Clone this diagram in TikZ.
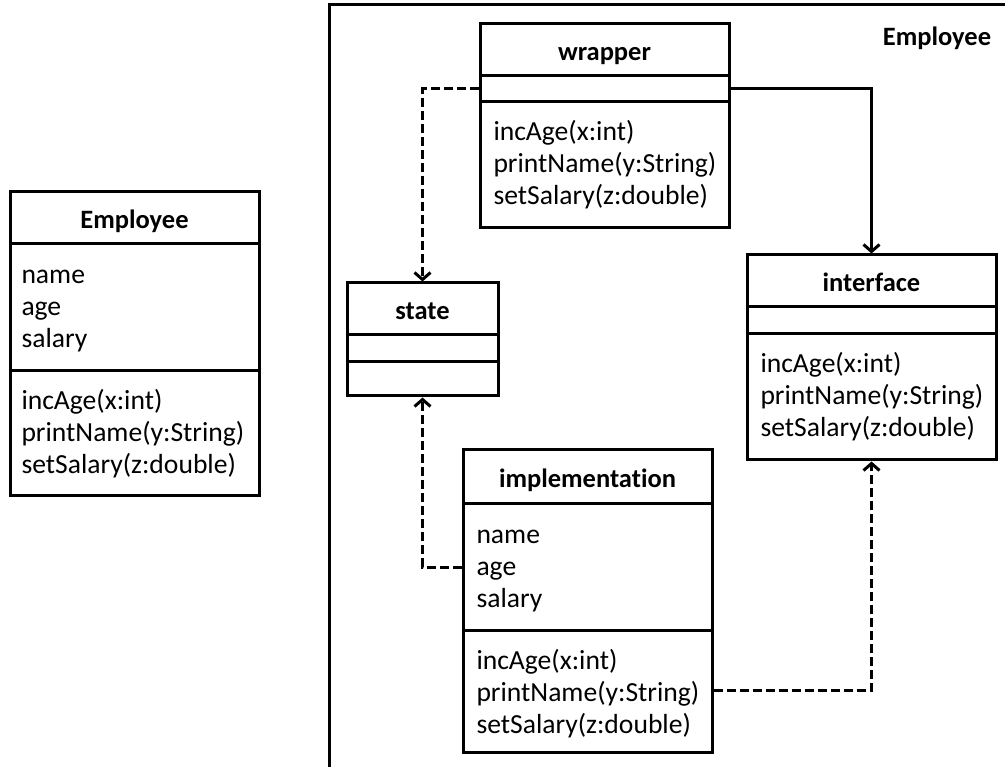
\documentclass[tikz,border=0pt]{standalone}
\usepackage{fontspec}
\setmainfont{Carlito}[Ligatures={NoCommon}]
\usetikzlibrary{arrows.meta}

\newcommand{\umlfont}{\fontsize{27.6}{32}\selectfont}
\newcommand{\umltitlefont}{\fontsize{26.5}{32}\selectfont\bfseries}

\begin{document}
\begin{tikzpicture}[x=1pt, y=-1pt, line width=3pt,
    every node/.style={font=\umlfont},
    box/.style={draw, inner sep=0pt},
    title/.style={anchor=base, inner sep=0pt, font=\umltitlefont},
    entry/.style={anchor=base west, inner sep=0pt},
    dep/.style={-{Straight Barb[length=7pt,width=16pt]}, dash pattern=on 9pt off 4pt},
    assoc/.style={-{Straight Barb[length=7pt,width=16pt]}}]
    \useasboundingbox (0,0) rectangle (1005,767);
    \clip (0,0) rectangle (1005,767);

    % plain class
    \node[box, minimum width=249, minimum height=303] (emp) at (134.5,343.5) {};
    \draw (emp.west |- 0,244) -- (emp.east |- 0,244);
    \draw (emp.west |- 0,371) -- (emp.east |- 0,371);
    \node[title] (empT) at (emp.north |- 0,229) {Employee};
    \node[entry] (empA1) at (20,284) {name};
    \node[entry] (empA2) at (20,316) {age};
    \node[entry] (empA3) at (20,348) {salary};
    \node[entry] (empM1) at (20,410) {incAge(x:int)};
    \node[entry] (empM2) at (20,442) {printName(y:String)};
    \node[entry] (empM3) at (20,474) {setSalary(z:double)};

    % the split version inside its frame
    \draw (329,5) rectangle (1040,800);
    \node[title] (frameT) at (937,46) {Employee};

    \node[box, minimum width=249, minimum height=204] (wrapper) at (604.5,126) {};
    \draw (wrapper.west |- 0,76) -- (wrapper.east |- 0,76);
    \draw (wrapper.west |- 0,102) -- (wrapper.east |- 0,102);
    \node[title] (wrapperT) at (wrapper.north |- 0,61) {wrapper};
    \node[entry] (wrapperM1) at (492,141) {incAge(x:int)};
    \node[entry] (wrapperM2) at (492,173) {printName(y:String)};
    \node[entry] (wrapperM3) at (492,205) {setSalary(z:double)};

    \node[box, minimum width=151, minimum height=113] (state) at (422.5,339.5) {};
    \draw (state.west |- 0,335) -- (state.east |- 0,335);
    \draw (state.west |- 0,362) -- (state.east |- 0,362);
    \node[title] (stateT) at (state.north |- 0,320) {state};

    \node[box, minimum width=249, minimum height=205] (iface) at (871.5,357.5) {};
    \draw (iface.west |- 0,307) -- (iface.east |- 0,307);
    \draw (iface.west |- 0,334) -- (iface.east |- 0,334);
    \node[title] (ifaceT) at (iface.north |- 0,292) {interface};
    \node[entry] (ifaceM1) at (759,373) {incAge(x:int)};
    \node[entry] (ifaceM2) at (759,405) {printName(y:String)};
    \node[entry] (ifaceM3) at (759,437) {setSalary(z:double)};

    \node[box, minimum width=249, minimum height=302] (impl) at (587.5,601) {};
    \draw (impl.west |- 0,503) -- (impl.east |- 0,503);
    \draw (impl.west |- 0,630) -- (impl.east |- 0,630);
    \node[title] (implT) at (impl.north |- 0,488) {implementation};
    \node[entry] (implA1) at (475,543) {name};
    \node[entry] (implA2) at (475,575) {age};
    \node[entry] (implA3) at (475,607) {salary};
    \node[entry] (implM1) at (475,669) {incAge(x:int)};
    \node[entry] (implM2) at (475,701) {printName(y:String)};
    \node[entry] (implM3) at (475,733) {setSalary(z:double)};

    % connectors
    \draw[dep] (wrapper.west |- 0,89) -| (state.north);
    \draw[assoc] (wrapper.east |- 0,89) -| (iface.north);
    \draw[dep] (impl.west |- 0,567) -| (state.south);
    \draw[dep] (impl.east |- 0,690) -| (iface.south);
\end{tikzpicture}
\end{document}
